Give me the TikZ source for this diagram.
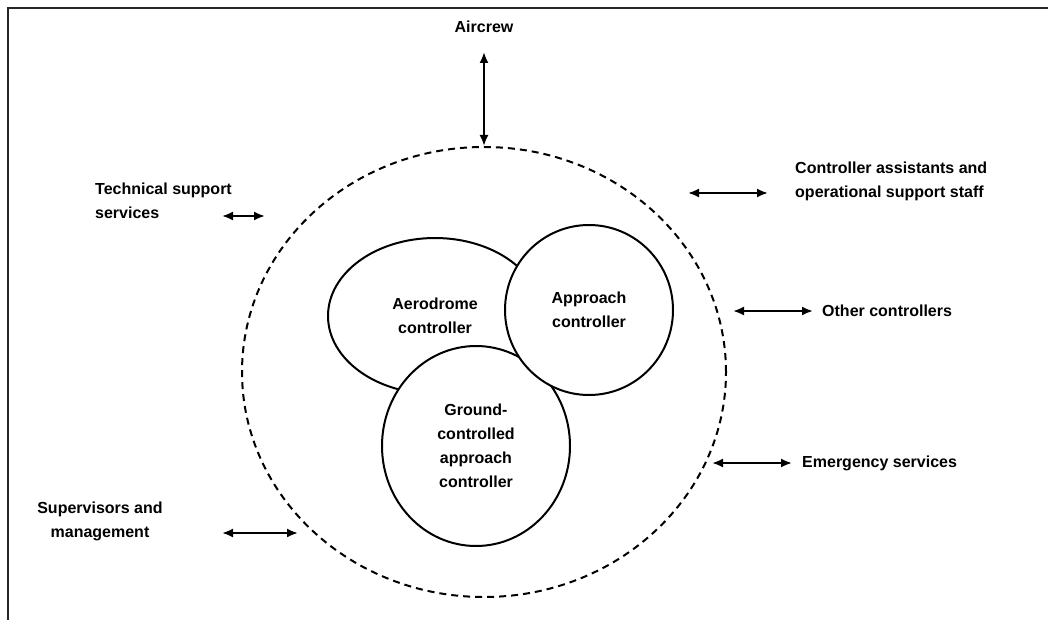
\documentclass[tikz,border=0pt]{standalone}
\usepackage{fontspec}
\setmainfont{Liberation Sans}
\usetikzlibrary{arrows.meta, shapes.geometric}

\tikzset{
    lbl/.style={font=\fontsize{16}{24}\selectfont\bfseries, align=center, inner sep=0pt},
    twoway/.style={line width=2pt, {Latex[length=11pt,width=9pt]}-{Latex[length=11pt,width=9pt]}},
    role/.style={ellipse, draw, line width=2pt, fill=white, lbl, inner sep=0pt},
}

\begin{document}
\begin{tikzpicture}[x=1pt, y=-1pt]
        \useasboundingbox (0,0) rectangle (1048,620);
        \draw [line width=2.5pt, black!85] (8,620) -- (8,8) -- (1048,8);

        \node[ellipse, draw, line width=2pt, dash pattern=on 7pt off 5pt, minimum width=484pt, minimum height=450pt] at (484,372) (env) {};

        \node[role, minimum width=214pt, minimum height=156pt] at (435,316) (aero) {Aerodrome\\controller};
        \node[role, minimum width=188pt, minimum height=200pt] at (476,446) (gca) {Ground-\\controlled\\approach\\controller};
        \node[role, minimum width=168pt, minimum height=170pt] at (589,310) (appr) {Approach\\controller};

        \node[lbl] at (484,27) (aircrew) {Aircrew};
        \node[lbl, align=left, anchor=west] at (795,181) (assist) {Controller assistants and\\operational support staff};
        \node[lbl, align=left, anchor=west] at (95,201) (tech) {Technical support\\services};
        \node[lbl, anchor=west] at (822,311) (other) {Other controllers};
        \node[lbl, anchor=west] at (802,463) (emerg) {Emergency services};
        \node[lbl] at (100,521) (superv) {Supervisors and\\management};

        \coordinate (aircrew_) at (484,52);
        \coordinate (assist_a) at (688,193);\coordinate (assist_b) at (768,193);
        \coordinate (tech_a) at (222,216);\coordinate (tech_b) at (265,216);
        \coordinate (other_a) at (733,311);\coordinate (other_b) at (813,311);
        \coordinate (emerg_a) at (712,463);\coordinate (emerg_b) at (792,463);
        \coordinate (superv_a) at (222,533);\coordinate (superv_b) at (298,533);

        \draw [twoway] (aircrew_) -- (env.north);
        \draw [twoway] (assist_a) -- (assist_b);
        \draw [twoway] (tech_a) -- (tech_b);
        \draw [twoway] (other_a) -- (other_b);
        \draw [twoway] (emerg_a) -- (emerg_b);
        \draw [twoway] (superv_a) -- (superv_b);
    \end{tikzpicture}
\end{document}
